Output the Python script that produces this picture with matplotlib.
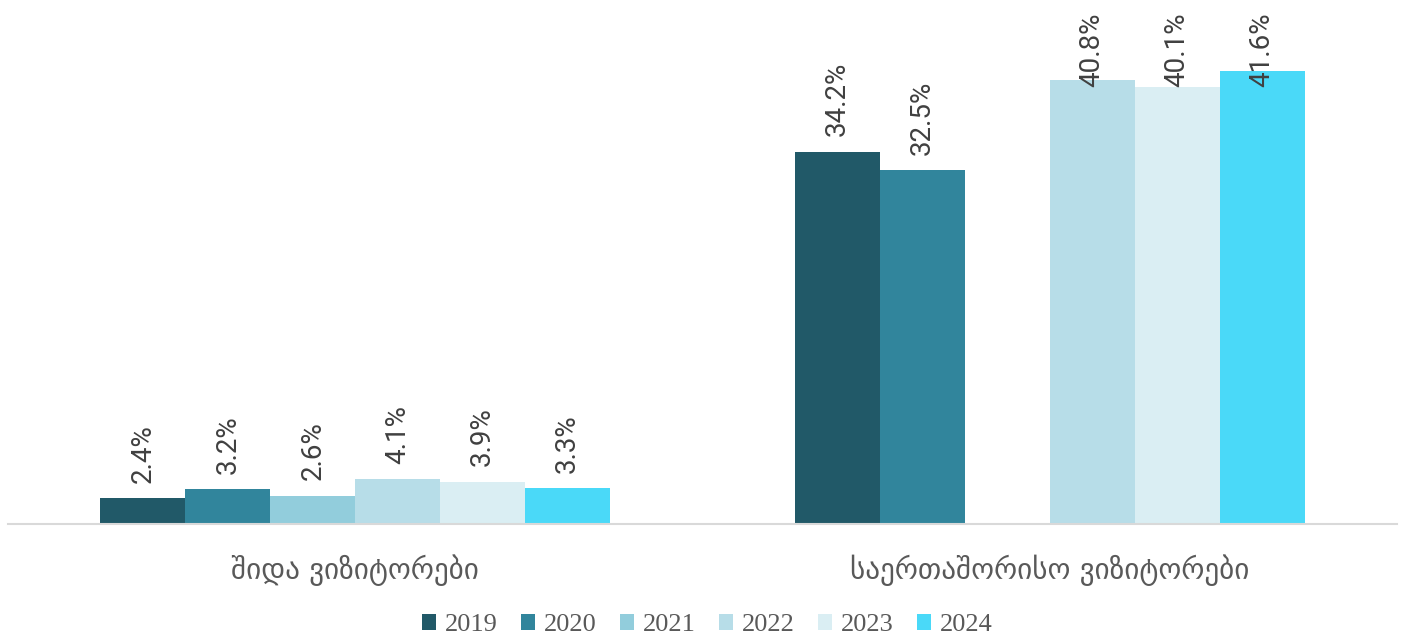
import numpy as np
import matplotlib
matplotlib.use("Agg")
import matplotlib.pyplot as plt
from matplotlib.patches import Patch

categories = ["შიდა ვიზიტორები", "საერთაშორისო ვიზიტორები"]
years = ["2019", "2020", "2021", "2022", "2023", "2024"]
v2019 = [2.4, 34.2]
v2020 = [3.2, 32.5]
v2021 = [2.6, np.nan]
v2022 = [4.1, 40.8]
v2023 = [3.9, 40.1]
v2024 = [3.3, 41.6]
series = [v2019, v2020, v2021, v2022, v2023, v2024]
colors = ["#215968", "#31859c", "#92cddc", "#b7dde8", "#daeef3", "#4ad9f8"]

fig = plt.figure(figsize=(14.11, 6.4), dpi=100)
ax = fig.add_axes([8/1411, 116/640, 1389/1411, 514/640])

ymax = 47.2
width = 0.1223
x = np.arange(len(categories))
label_len = 7.1
for i, (vals, col) in enumerate(zip(series, colors)):
    xs = x + (i - 2.5) * width
    ax.bar(xs, vals, width=width, color=col, edgecolor="none")
    for xi, v in zip(xs, vals):
        if np.isnan(v):
            continue
        y = v + 1.4
        if y + label_len > ymax - 0.2:
            ax.text(xi, ymax - 0.2, f"{v:.1f}%", rotation=90, ha="center", va="top",
                    fontsize=20, color="#404040", family=["Roboto", "DejaVu Sans"])
        else:
            ax.text(xi, y, f"{v:.1f}%", rotation=90, ha="center", va="bottom",
                    fontsize=20, color="#404040", family=["Roboto", "DejaVu Sans"])

ax.set_xlim(-0.5, 1.5)
ax.set_ylim(0, ymax)
for s in ["top", "right", "left"]:
    ax.spines[s].set_visible(False)
ax.spines["bottom"].set_color("#d9d9d9")
ax.spines["bottom"].set_linewidth(1.5)
ax.set_yticks([])
ax.set_xticks(x)
ax.set_xticklabels(categories, fontsize=21, color="#595959", family=["DejaVu Sans"])
ax.tick_params(axis="x", length=0, pad=22)

handles = [Patch(facecolor=c, edgecolor="none") for c in colors]
leg = fig.legend(handles, years, loc="center", bbox_to_anchor=(0.5014, 0.023), ncol=6,
                 frameon=False, prop={"family": "Liberation Serif", "size": 19},
                 handlelength=0.53, handleheight=0.53, handletextpad=0.35,
                 columnspacing=0.87, borderpad=0, borderaxespad=0)
for t in leg.get_texts():
    t.set_color("#595959")

fig.savefig("out.png", dpi=100)
